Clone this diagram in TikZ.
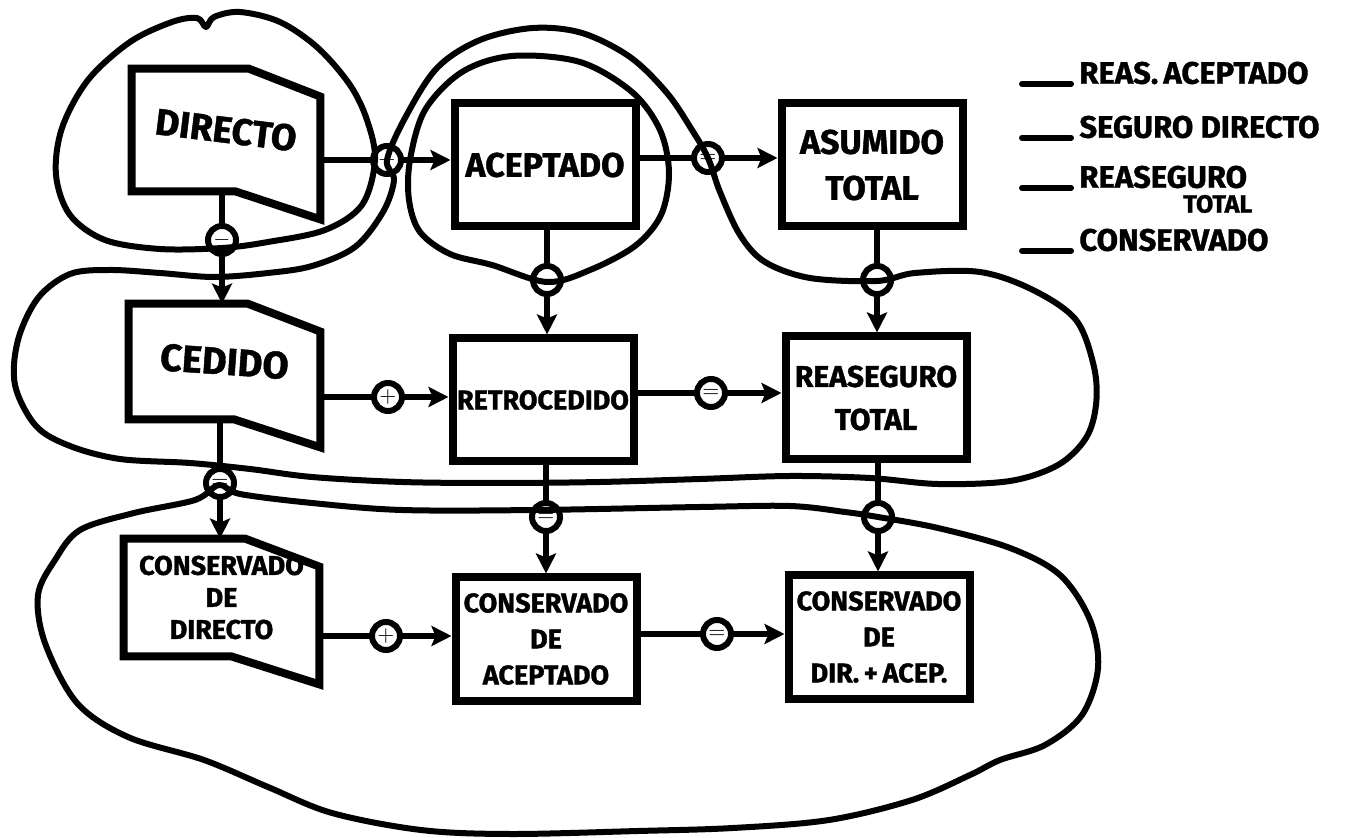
\documentclass[tikz,border=0pt]{standalone}
\usepackage{fontspec}
\setmainfont{Fira Sans}[BoldFeatures={FakeBold=1.2}]
\usetikzlibrary{arrows.meta,calc}

\begin{document}
\begin{tikzpicture}[x=0.5pt,y=-0.5pt,
    ink/.style={line width=3pt,line cap=round,line join=round},
    flow/.style={ink,-{Stealth[length=10pt,width=10pt,inset=2pt]}},
    boxline/.style={line width=4pt,line join=miter},
    box/.style={draw,boxline,minimum width=90.5pt,minimum height=61.5pt,align=center,inner sep=1pt},
    flag/.style={minimum width=#1,align=center,inner sep=0pt},
    op/.style={circle,draw,line width=3pt,minimum size=14pt,inner sep=0pt,font=\fontsize{11}{11}\selectfont\bfseries},
    big/.style={font=\fontsize{17}{23}\selectfont\bfseries},
    mid/.style={font=\fontsize{15}{21.5}\selectfont\bfseries},
    small/.style={font=\fontsize{13.5}{18}\selectfont\bfseries},
    key/.style={anchor=west,inner sep=4pt,font=\fontsize{15.5}{15.5}\selectfont\bfseries}]
  \useasboundingbox (0,0) rectangle (1359,838);

  % seguro directo
  \draw[ink] plot[smooth cycle,tension=.55] coordinates {(206,27) (214,17) (240,12) (280,22) (318,48) (350,85)
    (367,120) (375,160) (362,205) (325,230) (268,242) (222,248) (160,249) (105,240) (70,215) (56,175)
    (62,128) (88,80) (130,42) (172,22) (197,18)};
  % reas. aceptado
  \draw[ink] plot[smooth cycle,tension=.55] coordinates {(547,282) (590,270) (635,246) (661,215) (669,173)
    (660,130) (632,92) (580,62) (512,56) (462,72) (425,110) (410,160) (409,200) (420,232) (450,254) (492,265)};
  % reaseguro total
  \draw[ink] plot[smooth cycle,tension=.55] coordinates {(387,160) (405,118) (437,68) (480,40) (533,28)
    (582,33) (630,57) (667,93) (692,130) (708,158) (720,192) (740,235) (765,262) (810,278) (877,281)
    (915,273) (980,272) (1033,290) (1076,320) (1094,367) (1096,405) (1086,438) (1058,465) (1010,481)
    (938,484) (870,478) (790,476) (700,479) (600,482) (500,483) (402,482) (312,477) (250,469) (190,463)
    (120,459) (70,446) (36,426) (15,385) (18,340) (38,298) (70,274) (110,270) (160,273) (214,277)
    (268,273) (312,266) (355,247) (383,212) (394,180)};
  % conservado
  \draw[ink] plot[smooth cycle,tension=.55] coordinates {(219,485) (240,494) (312,503) (402,510) (536,510)
    (700,507) (790,506) (845,512) (878,517) (938,528) (1010,548) (1060,575) (1090,620) (1098,668)
    (1082,715) (1045,745) (1000,760) (970,775) (912,800) (829,820) (733,828) (638,831) (510,834)
    (421,830) (332,813) (268,787) (204,760) (128,737) (77,703) (45,643) (38,595) (55,560) (80,530)
    (134,513) (195,500)};

  \node[flag=94pt,minimum height=61pt,font=\fontsize{18.5}{18.5}\selectfont\bfseries] (dir) at (226,130) {\rotatebox{-7}{DIRECTO}};
  \node[flag=95.5pt,minimum height=57.5pt,font=\fontsize{19}{19}\selectfont\bfseries] (ced) at (224.5,361.5) {\rotatebox{-4}{CEDIDO}};
  \node[flag=97.5pt,minimum height=58.5pt,font=\fontsize{13.5}{16}\selectfont\bfseries] (cdir) at (221.5,597.5) {CONSERVADO\\DE\\DIRECTO};
  \foreach \f in {dir,ced,cdir}
    \draw[boxline] (\f.north west) -- ($(\f.north west)!.62!(\f.north east)$) -- ([yshift=-14pt]\f.north east)
      -- ([yshift=-14pt]\f.south east) -- ($(\f.south west)!.55!(\f.south east)$) -- (\f.south west) -- cycle;

  \node[box,big] (acep) at (545,165) {ACEPTADO};
  \node[box,big] (asum) at (872,165) {ASUMIDO\\TOTAL};
  \node[box,small] (retro) at (543,400) {RETROCEDIDO};
  \node[box,mid] (reas) at (876,398) {REASEGURO\\TOTAL};
  \node[box,small] (cacep) at (546,639) {CONSERVADO\\DE\\ACEPTADO};
  \node[box,small] (cdiracep) at (879,637) {CONSERVADO\\DE\\DIR.\,+\,ACEP.};

  \node[op] (c1) at (387,160) {$+$};
  \node[op] (c2) at (708,158) {$=$};
  \node[op] (c3) at (222,240) {$-$};
  \node[op] (c4) at (547,280) {$-$};
  \node[op] (c5) at (877,280) {$-$};
  \node[op] (c6) at (388,397) {$+$};
  \node[op] (c7) at (711,393) {$=$};
  \node[op] (c8) at (220,483) {$=$};
  \node[op] (c9) at (546,517) {$=$};
  \node[op] (c10) at (878,517) {$-$};
  \node[op] (c11) at (386,636) {$+$};
  \node[op] (c12) at (717,634) {$=$};

  \draw[ink] (dir.east |- c1) -- (c1);
  \draw[flow] (c1) -- (c1 -| acep.west);
  \draw[ink] (acep.east |- c2) -- (c2);
  \draw[flow] (c2) -- (c2 -| asum.west);
  \draw[ink] (ced.east |- c6) -- (c6);
  \draw[flow] (c6) -- (c6 -| retro.west);
  \draw[ink] (retro.east |- c7) -- (c7);
  \draw[flow] (c7) -- (c7 -| reas.west);
  \draw[ink] (cdir.east |- c11) -- (c11);
  \draw[flow] (c11) -- (c11 -| cacep.west);
  \draw[ink] (cacep.east |- c12) -- (c12);
  \draw[flow] (c12) -- (c12 -| cdiracep.west);

  \draw[ink] (c3 |- dir.south) -- (c3);
  \draw[flow] (c3) -- (c3 |- ced.north);
  \draw[ink] (c4 |- acep.south) -- (c4);
  \draw[flow] (c4) -- (c4 |- retro.north);
  \draw[ink] (c5 |- asum.south) -- (c5);
  \draw[flow] (c5) -- (c5 |- reas.north);
  \draw[ink] (c8 |- ced.south) -- (c8);
  \draw[flow] (c8) -- (c8 |- cdir.north);
  \draw[ink] (c9 |- retro.south) -- (c9);
  \draw[flow] (c9) -- (c9 |- cacep.north);
  \draw[ink] (c10 |- reas.south) -- (c10);
  \draw[flow] (c10) -- (c10 |- cdiracep.north);

  \node[key] (kA) at (1071,73) {REAS.\,ACEPTADO};
  \node[key] (kB) at (1071,127) {SEGURO DIRECTO};
  \node[key] (kC) at (1071,177) {REASEGURO};
  \node[key,font=\fontsize{12.5}{12.5}\selectfont\bfseries] (kD) at (1175,204) {TOTAL};
  \node[key] (kE) at (1071,240) {CONSERVADO};
  \foreach \k in {kA,kB,kC,kE}
    \draw[ink] (\k.base west) -- ++(-49,0);
\end{tikzpicture}
\end{document}
